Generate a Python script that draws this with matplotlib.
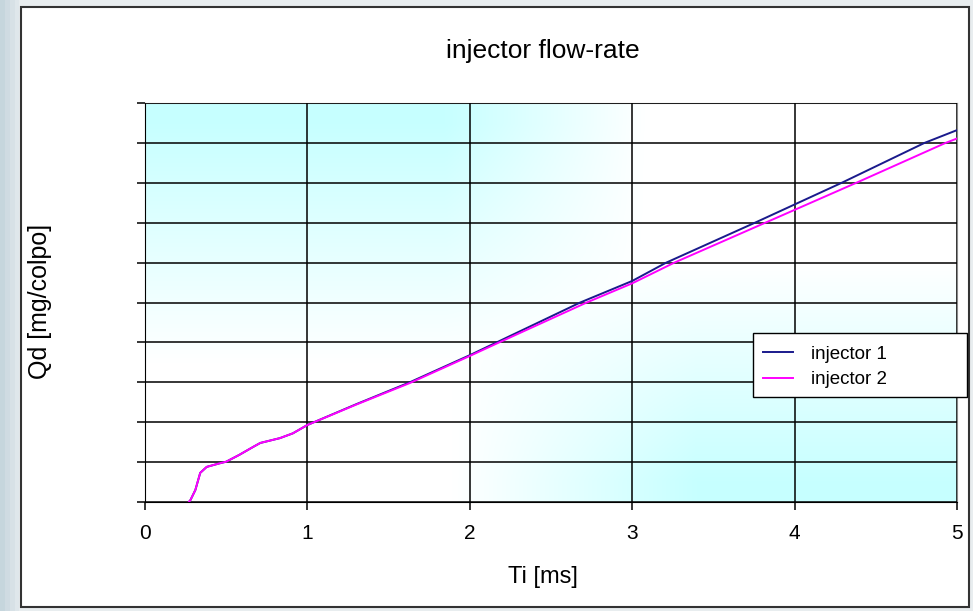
import numpy as np
import matplotlib
matplotlib.use("Agg")
import matplotlib.pyplot as plt
from matplotlib.patches import Rectangle
from matplotlib.lines import Line2D

# data
ti_1 = [0.27, 0.28, 0.31, 0.34, 0.38, 0.46, 0.50, 0.58, 0.67, 0.71, 0.83, 0.91,
        1.0, 1.3, 1.63, 2.0, 2.165, 2.68, 3.0, 3.21, 3.756, 4.29, 4.80, 5.0]
qd_1 = [0.0, 0.05, 0.3, 0.73, 0.88, 0.97, 1.01, 1.18, 1.39, 1.48, 1.6, 1.72,
        1.93, 2.45, 3.0, 3.68, 4.0, 5.0, 5.54, 6.0, 7.0, 8.0, 9.0, 9.32]
ti_2 = [0.27, 0.28, 0.31, 0.34, 0.38, 0.46, 0.50, 0.58, 0.67, 0.71, 0.83, 0.91,
        1.0, 1.3, 1.63, 2.0, 2.165, 2.72, 3.0, 3.26, 3.82, 4.38, 4.93, 5.0]
qd_2 = [0.0, 0.05, 0.3, 0.73, 0.88, 0.97, 1.01, 1.18, 1.39, 1.48, 1.6, 1.72,
        1.93, 2.44, 2.98, 3.66, 3.97, 5.0, 5.48, 6.0, 7.0, 8.0, 9.0, 9.11]
x_ticks = [0, 1, 2, 3, 4, 5]
y_ticks = list(range(0, 11))
labels = ["injector 1", "injector 2"]
colors = ["#1a1a8c", "#ff00ff"]

W, H = 973, 611
fig = plt.figure(figsize=(W / 100, H / 100), dpi=100)
fig.patch.set_facecolor("#e6ebee")

# left bluish strip
bg = fig.add_axes([0, 0, 1, 1], zorder=-10)
grad = np.ones((2, 200, 3))
xx = np.linspace(0, 1, 200)
strip = np.clip(xx / 0.02, 0, 1)
for i, c in enumerate(np.array([[0.78, 0.84, 0.87], [0.91, 0.93, 0.94]]).T):
    grad[:, :, i] = c[0] + (c[1] - c[0]) * strip
bg.imshow(grad, aspect="auto", extent=[0, 1, 0, 1])
bg.set_axis_off()

# white panel with border
fig.patches.append(Rectangle((21 / W, 1 - 607 / H), (969 - 21) / W, (607 - 7) / H,
                             transform=fig.transFigure, facecolor="white",
                             edgecolor="#333333", linewidth=1.5, zorder=-5))

ax = fig.add_axes([145 / W, 1 - 502 / H, (957 - 145) / W, (502 - 103) / H])

# textured cyan background
u = np.linspace(0, 1, 300)
v = np.linspace(1, 0, 200)
U, V = np.meshgrid(u, v)
tl = np.clip((0.62 - U) / 0.25, 0, 1) * np.clip((V - 0.35) / 0.6, 0, 1)
br = np.clip((U - 0.38) / 0.3, 0, 1) * np.clip((0.6 - V) / 0.55, 0, 1)
s = np.clip(np.maximum(tl, br), 0, 1)
img = np.ones((200, 300, 3))
img[:, :, 0] = 1 - 0.22 * s
ax.imshow(img, aspect="auto", extent=[0, 5, 0, 10], zorder=0)

for xs, ys, c in zip([ti_1, ti_2], [qd_1, qd_2], colors):
    ax.plot(xs, ys, color=c, linewidth=1.4, zorder=3)

ax.set_xlim(0, 5)
ax.set_ylim(0, 10)
ax.set_xticks(x_ticks)
ax.set_yticks(y_ticks)
ax.set_yticklabels([])
ax.grid(True, color="black", linewidth=1.1, zorder=1)
ax.set_axisbelow(False)
ax.tick_params(axis="both", direction="out", length=6, width=1.1, color="black")
ax.tick_params(axis="x", pad=10, labelsize=15)
for lab in ax.get_xticklabels():
    lab.set_family("Liberation Sans")
ax.spines["left"].set_color("black")
ax.spines["bottom"].set_color("black")
ax.spines["top"].set_color("#888888")
ax.spines["right"].set_color("#888888")

fig.text(543 / W, 1 - 51 / H, "injector flow-rate", ha="center", va="center",
         fontsize=19, family="Liberation Sans")
fig.text(543 / W, 1 - 577 / H, "Ti [ms]", ha="center", va="center",
         fontsize=17, family="Liberation Sans")
fig.text(40 / W, 1 - 301 / H, "Qd [mg/colpo]", ha="center", va="center",
         rotation=90, fontsize=18, family="Liberation Sans")

# legend box
fig.patches.append(Rectangle((753 / W, 1 - 397 / H), (967 - 753) / W, (397 - 333) / H,
                             transform=fig.transFigure, facecolor="white",
                             edgecolor="black", linewidth=1.0, zorder=5))
handles = [Line2D([], [], color=c, linewidth=1.4) for c in colors]
leg = fig.legend(handles, labels, loc="upper left", frameon=False,
                 bbox_to_anchor=(755 / W, 1 - 338 / H), borderaxespad=0,
                 handlelength=1.6, handletextpad=1.0, labelspacing=0.45,
                 prop={"family": "Liberation Sans", "size": 13.5})
leg.set_zorder(6)

fig.savefig("out.png", dpi=100)
